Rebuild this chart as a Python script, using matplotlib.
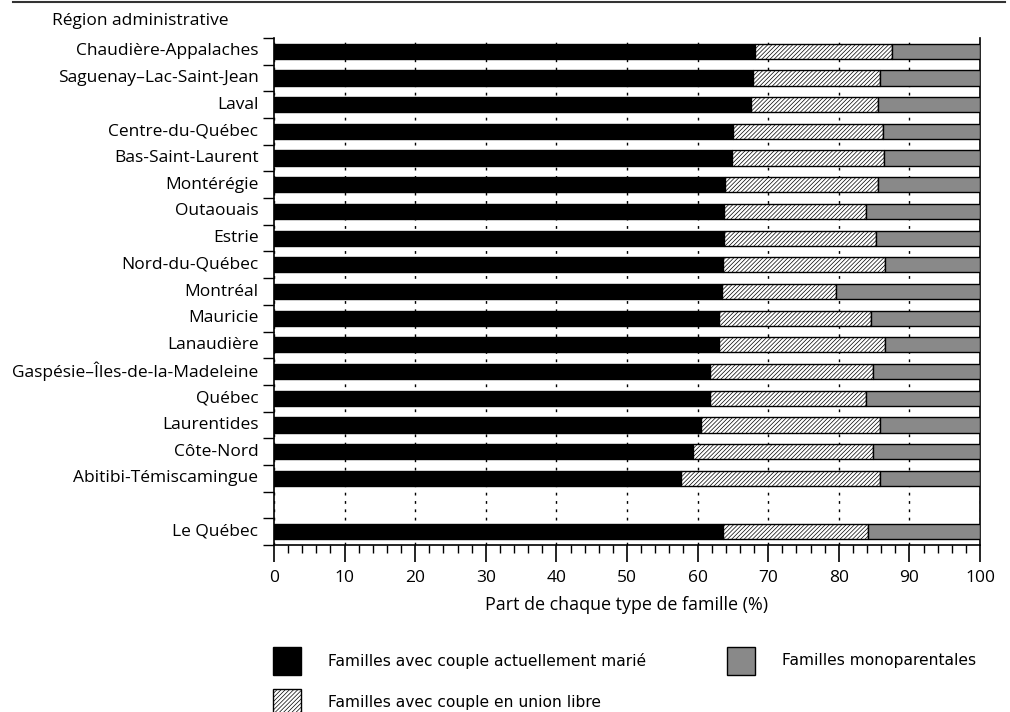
import numpy as np
import matplotlib.pyplot as plt
from matplotlib.patches import Rectangle
from matplotlib.lines import Line2D
from matplotlib.ticker import MultipleLocator

plt.rcParams['hatch.linewidth'] = 0.5
plt.rcParams['hatch.color'] = '#666666'

regions = ["Chaudière-Appalaches", "Saguenay–Lac-Saint-Jean", "Laval", "Centre-du-Québec",
           "Bas-Saint-Laurent", "Montérégie", "Outaouais", "Estrie", "Nord-du-Québec",
           "Montréal", "Mauricie", "Lanaudière", "Gaspésie–Îles-de-la-Madeleine", "Québec",
           "Laurentides", "Côte-Nord", "Abitibi-Témiscamingue", "", "Le Québec"]
maries = [68.1, 67.8, 67.5, 65.0, 64.9, 63.9, 63.7, 63.7, 63.6, 63.5, 63.1, 63.0,
          61.8, 61.8, 60.5, 59.4, 57.6, 0, 63.6]
union_libre = [19.4, 18.0, 18.0, 21.2, 21.5, 21.7, 20.2, 21.6, 23.0, 16.1, 21.4, 23.6,
               23.1, 22.1, 25.4, 25.4, 28.2, 0, 20.5]
monoparentales = [100 - m - u if m else 0 for m, u in zip(maries, union_libre)]

lab_font = "Open Sans"
leg_font = "DejaVu Sans"
hatch = '////////'

fig = plt.figure(figsize=(10.1, 7.12), dpi=100)
ax = fig.add_axes([274/1010, 1 - 545/712, 706/1010, 507/712])

y = np.arange(len(regions))
h = 0.57
keep = np.array([r != "" for r in regions])
m = np.array(maries)
u = np.array(union_libre)
p = np.array(monoparentales)

ax.barh(y[keep], m[keep], height=h, color='black', edgecolor='black', lw=1, zorder=3)
ax.barh(y[keep], u[keep], left=m[keep], height=h, color='white', edgecolor='black',
        lw=1, hatch=hatch, zorder=3)
ax.barh(y[keep], p[keep], left=(m + u)[keep], height=h, color='#898989', edgecolor='black',
        lw=1, zorder=3)

ax.set_xlim(0, 100)
ax.set_ylim(len(regions) - 0.5, -0.5)
ax.xaxis.set_major_locator(MultipleLocator(10))
ax.xaxis.set_minor_locator(MultipleLocator(2))
ax.set_yticks(np.arange(-0.5, len(regions), 1.0))
ax.set_yticklabels([])
ax.tick_params(axis='y', which='major', direction='out', length=8, width=1, color='black')
ax.tick_params(axis='x', which='major', direction='out', length=12, width=1.2,
               labelsize=12.5, pad=6)
ax.tick_params(axis='x', which='minor', direction='out', length=6, width=1)
for t in ax.get_xticklabels():
    t.set_fontfamily(lab_font)

for yi, name in zip(y, regions):
    if name:
        ax.text(-0.022, yi, name, transform=ax.get_yaxis_transform(), ha='right',
                va='center', fontsize=12.5, family=lab_font)

ax.grid(axis='x', which='major', linestyle=(0, (2, 4)), color='black', lw=1, zorder=1)
ax.spines['top'].set_visible(False)
for s in ['left', 'right', 'bottom']:
    ax.spines[s].set_linewidth(1.2)

ax.set_xlabel("Part de chaque type de famille (%)", fontsize=12.9, family=lab_font, labelpad=7)

fig.text(52/1010, 1 - 21/712, "Région administrative", fontsize=12.5, family=lab_font,
         ha='left', va='center')
fig.add_artist(Line2D([13/1010, 1005/1010], [1 - 1.5/712, 1 - 1.5/712], color='#333333', lw=1.5))

# legend
def leg_box(x0, y0, **kw):
    fig.add_artist(Rectangle((x0/1010, 1 - (y0 + 28)/712), 28/1010, 28/712,
                             transform=fig.transFigure, edgecolor='black', lw=1, **kw))

leg_box(273, 647, facecolor='black')
leg_box(273, 689, facecolor='white', hatch=hatch)
leg_box(727, 647, facecolor='#898989')
fig.text(328/1010, 1 - 661/712, "Familles avec couple actuellement marié", fontsize=11.2,
         family=leg_font, va='center')
fig.text(328/1010, 1 - 703/712, "Familles avec couple en union libre", fontsize=11.2,
         family=leg_font, va='center')
fig.text(782/1010, 1 - 661/712, "Familles monoparentales", fontsize=11.2,
         family=leg_font, va='center')

fig.savefig("out.png", dpi=100)
